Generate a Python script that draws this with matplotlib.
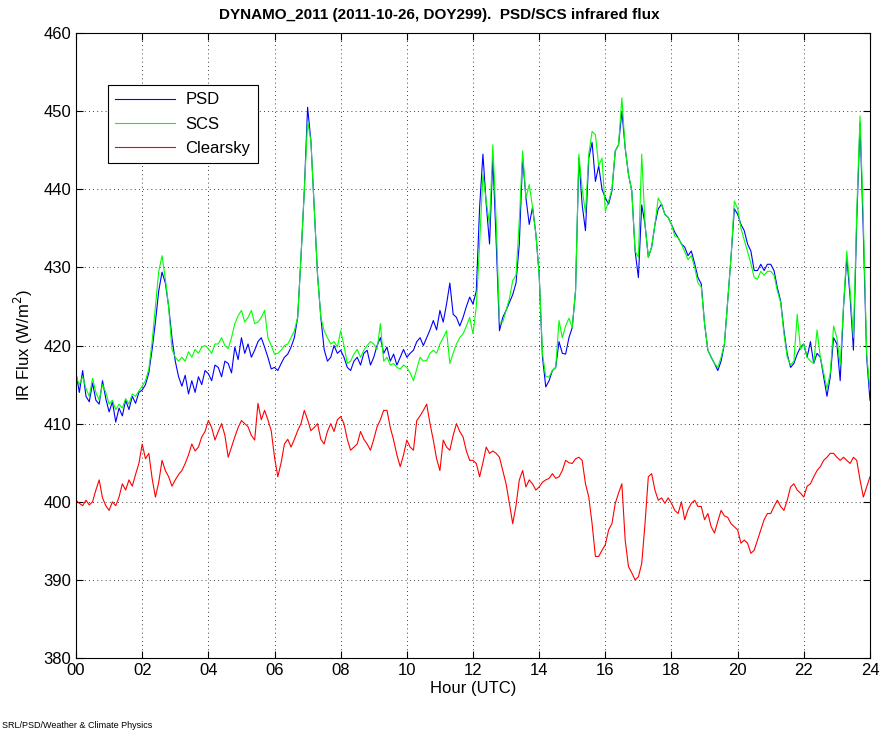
import numpy as np
import matplotlib
matplotlib.use('Agg')
import matplotlib.pyplot as plt

# values every 0.1 h, 00 to 24 UTC
hours = np.round(np.arange(0, 24.01, 0.1), 1)

psd = [
    416.5, 414.0, 416.8, 413.5, 412.8, 415.2, 413.0, 412.5, 415.5, 413.2,
    411.5, 412.8, 410.2, 412.0, 411.0, 413.0, 411.8, 413.5, 412.6, 414.0,
    414.3, 415.0, 416.5, 419.5, 423.0, 427.0, 429.4, 428.0, 425.0, 421.0,
    418.0, 416.0, 414.8, 416.2, 413.8, 415.5, 414.0, 416.0, 415.0, 416.8,
    416.4, 415.5, 417.5, 417.2, 416.0, 418.0, 417.7, 416.5, 419.8, 418.2,
    421.0, 419.0, 420.2, 418.5, 419.4, 420.5, 421.0, 419.8, 418.5, 417.0,
    417.2, 416.8, 417.7, 418.5, 418.9, 419.8, 421.0, 423.6, 431.3, 439.8,
    450.5, 446.2, 437.7, 429.1, 423.6, 419.5, 418.0, 418.5, 420.0, 419.0,
    419.4, 418.5, 417.2, 416.8, 418.0, 418.5, 417.5, 419.0, 419.4, 417.5,
    418.5, 420.0, 421.0, 419.0, 419.8, 418.0, 418.9, 417.5, 418.5, 419.5,
    418.5, 419.0, 419.4, 420.5, 421.0, 420.0, 421.0, 422.0, 423.2, 422.0,
    424.5, 423.0, 425.3, 428.0, 424.0, 423.6, 422.5, 423.6, 425.0, 426.2,
    425.3, 427.0, 437.7, 444.5, 438.1, 433.0, 444.0, 433.4, 421.9, 423.6,
    424.5, 425.5, 426.5, 428.0, 433.0, 444.0, 438.9, 435.5, 437.7, 434.3,
    429.1, 418.5, 414.7, 415.5, 416.8, 417.2, 420.5, 419.0, 418.9, 421.0,
    422.3, 427.0, 444.0, 438.0, 434.7, 444.0, 446.0, 441.0, 443.0, 440.0,
    438.9, 438.1, 439.8, 444.9, 445.7, 450.0, 445.3, 441.9, 439.8, 432.1,
    428.7, 438.0, 435.5, 431.3, 432.6, 435.5, 437.5, 438.1, 436.8, 436.4,
    435.5, 434.5, 433.8, 433.0, 432.6, 431.5, 432.1, 430.5, 428.7, 427.9,
    422.8, 419.4, 418.5, 417.7, 416.8, 418.0, 420.2, 425.7, 431.3, 437.5,
    436.8, 435.5, 434.7, 433.0, 432.1, 429.6, 429.6, 430.4, 429.6, 430.4,
    430.4, 429.6, 427.4, 425.7, 421.9, 418.9, 417.2, 417.7, 418.9, 419.8,
    420.2, 418.5, 420.5, 417.7, 419.0, 418.5, 416.0, 413.5, 416.0, 421.0,
    420.2, 415.5, 424.9, 431.3, 426.2, 419.4, 436.0, 448.5, 434.3, 418.5,
    413.0,
]

scs = [
    416.0, 415.0, 416.0, 414.5, 413.5, 415.8, 414.0, 413.0, 415.0, 414.0,
    412.5, 413.0, 411.8, 412.5, 412.0, 413.2, 412.5, 413.8, 413.5, 414.2,
    414.8, 415.5, 417.0, 420.5, 425.0, 429.5, 431.5, 428.5, 424.9, 419.5,
    418.5, 418.0, 418.5, 418.0, 419.2, 418.5, 419.5, 419.0, 419.8, 420.0,
    419.6, 419.0, 420.2, 420.2, 421.0, 420.0, 419.6, 421.0, 422.8, 423.8,
    424.5, 423.0, 423.6, 424.5, 422.8, 423.0, 423.6, 424.5, 421.0, 420.0,
    418.9, 419.0, 419.4, 420.0, 420.2, 421.0, 421.9, 423.6, 431.3, 439.8,
    448.7, 446.2, 437.7, 429.1, 423.6, 421.9, 421.0, 420.2, 420.5, 419.8,
    421.9, 420.0, 417.7, 418.0, 418.9, 419.5, 418.5, 419.4, 420.0, 420.5,
    420.2, 419.5, 422.8, 418.0, 418.5, 417.5, 417.7, 417.2, 417.0, 417.5,
    417.2, 416.5, 415.5, 417.0, 418.5, 418.0, 418.1, 419.0, 419.4, 419.0,
    420.2, 421.0, 421.9, 417.7, 419.0, 420.2, 421.0, 421.5, 422.5, 423.6,
    421.5, 425.0, 433.0, 441.9, 438.5, 435.5, 445.7, 436.0, 423.0, 423.0,
    424.5, 426.0, 428.3, 429.0, 436.0, 444.9, 438.9, 440.6, 437.7, 434.3,
    429.1, 419.0, 416.0, 416.0, 416.8, 417.2, 423.2, 421.0, 422.5, 423.5,
    422.3, 427.0, 444.5, 440.0, 437.0, 444.5, 447.4, 447.0, 443.0, 444.0,
    437.2, 438.5, 440.0, 444.9, 445.7, 451.7, 445.3, 441.9, 439.8, 432.1,
    431.3, 444.5, 435.5, 431.3, 432.6, 435.5, 438.9, 438.1, 436.8, 436.4,
    435.5, 434.0, 433.8, 433.0, 432.0, 431.0, 431.5, 430.0, 428.0, 427.5,
    422.8, 419.4, 418.5, 417.7, 417.2, 418.5, 420.2, 425.7, 431.3, 438.5,
    437.5, 435.0, 433.5, 432.0, 430.5, 428.7, 428.5, 429.5, 429.0, 429.5,
    429.5, 429.0, 427.0, 425.5, 421.5, 418.5, 417.5, 418.0, 424.0, 419.5,
    420.2, 418.5, 418.0, 417.7, 422.0, 418.5, 416.5, 414.5, 416.5, 422.5,
    421.0, 417.5, 425.0, 432.1, 427.0, 421.0, 437.0, 449.4, 436.0, 419.0,
    414.3,
]

clearsky = [
    400.2, 399.8, 399.5, 400.2, 399.6, 400.0, 401.5, 402.8, 400.5, 399.5,
    398.9, 400.0, 399.5, 400.6, 402.3, 401.5, 402.8, 402.0, 403.5, 404.9,
    407.4, 405.5, 406.2, 403.0, 400.6, 402.5, 405.3, 404.0, 403.2, 402.0,
    402.8, 403.5, 404.0, 404.9, 406.0, 407.4, 406.5, 407.0, 408.3, 409.0,
    410.4, 409.5, 407.9, 409.0, 410.0, 408.5, 405.7, 407.0, 408.3, 409.5,
    410.4, 410.0, 409.6, 408.5, 407.9, 412.6, 410.5, 411.7, 410.5, 409.1,
    405.7, 403.2, 405.0, 407.4, 408.0, 407.0, 408.0, 409.1, 410.0, 411.7,
    410.5, 409.1, 409.5, 410.0, 408.0, 407.4, 409.0, 410.0, 409.0, 410.5,
    410.9, 410.0, 408.0, 406.6, 407.0, 407.4, 409.0, 408.0, 407.4, 406.6,
    408.0, 409.6, 410.5, 411.7, 411.7, 409.5, 407.9, 406.0, 404.5, 406.0,
    407.9, 407.0, 406.6, 410.4, 411.0, 411.7, 412.5, 410.0, 407.9, 405.5,
    404.0, 407.9, 407.0, 406.6, 408.5, 410.0, 409.0, 408.3, 406.5, 405.3,
    405.3, 404.9, 403.2, 405.0, 407.0, 406.2, 406.5, 406.2, 405.7, 404.0,
    402.3, 399.8, 397.2, 399.5, 402.8, 404.0, 401.9, 402.8, 402.3, 401.5,
    401.9, 402.5, 402.8, 403.0, 403.6, 403.0, 403.2, 404.0, 405.3, 405.0,
    404.9, 405.5, 405.7, 405.3, 402.3, 400.6, 397.2, 393.0, 393.0, 393.8,
    394.5, 396.4, 397.2, 399.8, 401.1, 402.3, 395.1, 391.7, 390.9, 390.0,
    390.4, 392.1, 397.2, 403.2, 403.6, 401.5, 400.2, 400.5, 399.8, 400.5,
    399.8, 398.9, 398.5, 400.0, 397.7, 399.0, 399.8, 400.2, 399.4, 399.4,
    397.7, 398.5, 396.8, 396.0, 397.5, 398.9, 398.2, 398.0, 397.2, 396.8,
    396.4, 394.7, 395.1, 394.7, 393.4, 393.8, 395.1, 396.4, 397.7, 398.5,
    398.5, 399.4, 400.2, 399.4, 398.9, 400.2, 401.9, 402.3, 401.5, 401.1,
    400.6, 402.0, 402.3, 403.2, 404.0, 404.5, 405.3, 405.7, 406.2, 406.2,
    405.7, 405.3, 405.7, 405.3, 404.9, 405.7, 405.3, 402.8, 400.6, 401.9,
    403.2,
]

xtick_vals = list(range(0, 25, 2))
xtick_labels = ['%02d' % h for h in xtick_vals]
ytick_vals = list(range(380, 461, 10))

plt.rcParams['font.family'] = ['Liberation Sans', 'DejaVu Sans']

fig = plt.figure(figsize=(8.8, 7.34), dpi=100)
ax = fig.add_axes([0.0864, 0.1035, 0.9022, 0.8515])

ax.plot(hours, psd, color='#0000ff', lw=0.8, label='PSD')
ax.plot(hours, scs, color='#00ff00', lw=0.8, label='SCS')
ax.plot(hours, clearsky, color='#ff0000', lw=0.8, label='Clearsky')

ax.set_xlim(0, 24)
ax.set_ylim(380, 460)
ax.set_xticks(xtick_vals)
ax.set_xticklabels(xtick_labels)
ax.set_yticks(ytick_vals)
ax.tick_params(direction='in', top=True, right=True, labelsize=12, length=5, width=0.8)
ax.grid(True, color='black', linestyle=(0, (1, 4)), linewidth=0.6)
for s in ax.spines.values():
    s.set_linewidth(0.8)

ax.set_xlabel('Hour (UTC)', fontsize=12, labelpad=2)
ax.set_ylabel('IR Flux (W/m$^2$)', fontsize=12, labelpad=6)
ax.set_title('DYNAMO_2011 (2011-10-26, DOY299).  PSD/SCS infrared flux',
             fontsize=11, fontweight='bold', pad=10, x=0.457)

leg = ax.legend(loc='upper left', bbox_to_anchor=(0.04, 0.917), fontsize=12,
                fancybox=False, framealpha=1, edgecolor='black', borderaxespad=0,
                handlelength=3.6, handletextpad=0.6, borderpad=0.45, labelspacing=0.55)
leg.get_frame().set_linewidth(0.8)

fig.text(0.002, 0.008, 'SRL/PSD/Weather & Climate Physics', fontsize=6.5)

fig.savefig('out.png', dpi=100)
